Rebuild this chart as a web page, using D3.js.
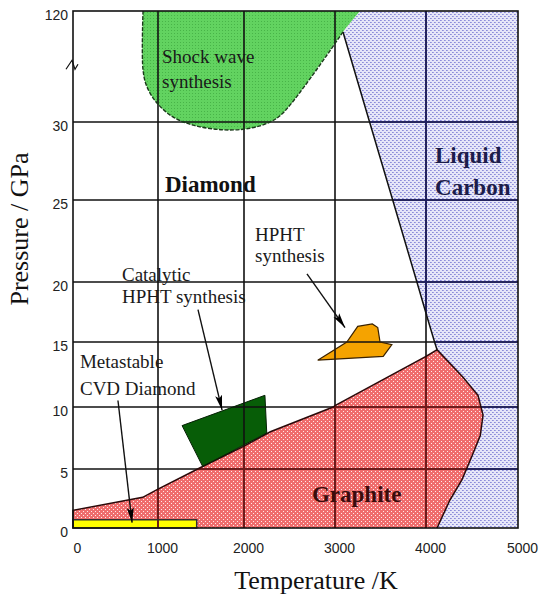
<!DOCTYPE html>
<html><head><meta charset="utf-8">
<script src="https://cdn.jsdelivr.net/npm/d3@7"></script>
<style>body{margin:0;background:#fff}</style>
</head><body>
<svg id="c" width="539" height="597"></svg>
<script>
// ---------- data (T in K, P in GPa) ----------
const tempTicks = [0, 1000, 2000, 3000, 4000, 5000];
const tempLabels = ["0", "1000", "2000", "3000", "4000", "5000"];
const pressTicks = [0, 5, 10, 15, 20, 25, 30, 120];
const pressLabels = ["0", "5", "10", "15", "20", "25", "30", "120"];

const graphiteRegion = [[0,0],[0,1.5],[820,2.6],[1000,3.3],[1490,5.1],[2000,6.85],[2290,8.0],[2980,10],[3000,10.1],[4000,13.9],[4120,14.4],[4400,12.3],[4565,10.9],[4620,9.35],[4590,7.7],[4500,6.05],[4390,4.07],[4260,2.37],[4120,0]];
const liquidRegion = [[3275,120],[5000,120],[5000,0],[4120,0],[4260,2.37],[4390,4.07],[4500,6.05],[4590,7.7],[4620,9.35],[4565,10.9],[4400,12.3],[4120,14.4],[4093,15],[4000,17.4],[3900,20],[3634,25],[3380,30],[3088,103]];
const meltLine = [[4120,14.4],[4093,15],[4000,17.4],[3900,20],[3634,25],[3380,30],[3088,103]];
const shockRegion = [[3275,120],[3088,103],[2429,37.3],[2286,30],[2066,29.6],[1756,29.5],[1407,29.8],[1174,34.1],[988,45.4],[871,58.4],[824,72.2],[824,120]];
const hphtRegion = [[2810,13.6],[3130,15],[3250,16.3],[3410,16.5],[3470,16.2],[3495,15],[3625,14.8],[3530,13.9]];
const catalyticRegion = [[1280,8.5],[2230,10.9],[2250,7.9],[1520,5.2]];
const cvdRegion = [[0,0],[0,0.7],[1450,0.7],[1450,0]];

const arrows = [
  {from:[529,10.5], to:[695,0.45]},
  {from:[1465,17.7], to:[1745,9.75]},
  {from:[2692,20.5], to:[3110,16.2]}
];
const labels = [
  {t:"Shock wave", T:1047, P:77.8, bold:false},
  {t:"synthesis", T:1047, P:57.6, bold:false},
  {t:"Diamond", T:1081, P:25.5, bold:true, color:"#111"},
  {t:"Liquid", T:4098, P:27.4, bold:true, color:"#1c1c4a"},
  {t:"Carbon", T:4098, P:25.3, bold:true, color:"#1c1c4a"},
  {t:"HPHT", T:2121, P:22.5, bold:false},
  {t:"synthesis", T:2121, P:21.2, bold:false},
  {t:"Catalytic", T:576, P:20.06, bold:false},
  {t:"HPHT synthesis", T:576, P:18.25, bold:false},
  {t:"Metastable", T:82, P:13.0, bold:false},
  {t:"CVD Diamond", T:82, P:10.9, bold:false},
  {t:"Graphite", T:2747, P:2.2, bold:true, color:"#3a0c0c"}
];

// ---------- layout ----------
const svg = d3.select("#c");
const x = d3.scaleLinear().domain(tempTicks).range([73,158,244,335,426,518]);
const y = d3.scaleLinear().domain(pressTicks).range([528,469,407,342,282,200,122,11]);
const X0 = x(0), X1 = x(5000), Y0 = y(0), Y1 = y(120);

const defs = svg.append("defs");
function pat(id, base, dots, size){
  const p = defs.append("pattern").attr("id",id).attr("width",size).attr("height",size).attr("patternUnits","userSpaceOnUse");
  p.append("rect").attr("width",size).attr("height",size).attr("fill",base);
  dots.forEach(d=>p.append("rect").attr("x",d[0]).attr("y",d[1]).attr("width",d[3]).attr("height",d[3]).attr("fill",d[2]));
}
pat("pGreen","#62d360",[[0,0,"#48b448",1]],3);
pat("pBlue","#e6e6f8",[[0,0,"#8c8cd8",1],[1,0,"#a2a2e2",1],[2,2,"#8c8cd8",1],[3,2,"#a2a2e2",1]],4);
pat("pRed","#ef6d6d",[[1,1,"#ffeaea",1],[3,3,"#ffeaea",1]],4);

const line = d3.line().x(d=>x(d[0])).y(d=>y(d[1]));
const smooth = d3.line().x(d=>x(d[0])).y(d=>y(d[1])).curve(d3.curveCatmullRom);

defs.append("clipPath").attr("id","clipRed").append("path").attr("d", line(graphiteRegion)+"Z");
defs.append("clipPath").attr("id","clipBlue").append("path").attr("d", line(liquidRegion)+"Z");

// arrow marker
const mk = defs.append("marker").attr("id","arr").attr("markerUnits","userSpaceOnUse")
  .attr("markerWidth",16).attr("markerHeight",10).attr("refX",15).attr("refY",5).attr("orient","auto");
mk.append("path").attr("d","M0,1.5 L15,5 L0,8.5 L3,5 Z").attr("fill","#000");

// regions
svg.append("path").attr("d", line(liquidRegion)+"Z").attr("fill","url(#pBlue)");
svg.append("path").attr("d", line(graphiteRegion)+"Z").attr("fill","url(#pRed)");
svg.append("path").attr("d", smooth(shockRegion)+"Z").attr("fill","url(#pGreen)");
svg.append("path").attr("d", line(hphtRegion)+"Z").attr("fill","#f5a300");
svg.append("path").attr("d", line(catalyticRegion)+"Z").attr("fill","#075d07");
svg.append("path").attr("d", line(cvdRegion)+"Z").attr("fill","#ffff00");

// grid
function grid(g, color){
  g.selectAll("line.v").data(tempTicks.slice(1,-1)).join("line").attr("class","v")
    .attr("x1",d=>x(d)).attr("x2",d=>x(d)).attr("y1",Y0).attr("y2",Y1)
    .attr("stroke",color).attr("stroke-width",1.6);
  g.selectAll("line.h").data(pressTicks.slice(1,-1)).join("line").attr("class","h")
    .attr("x1",X0).attr("x2",X1).attr("y1",d=>y(d)).attr("y2",d=>y(d))
    .attr("stroke",color).attr("stroke-width",1.6);
}
grid(svg.append("g"), "#111");
grid(svg.append("g").attr("clip-path","url(#clipRed)"), "#7a1818");
grid(svg.append("g").attr("clip-path","url(#clipBlue)"), "#1e1e66");

// outlines
svg.append("path").attr("d", line(graphiteRegion)).attr("fill","none").attr("stroke","#2a0a0a").attr("stroke-width",1.5);
svg.append("path").attr("d", line(meltLine)).attr("fill","none").attr("stroke","#111").attr("stroke-width",1.5);
svg.append("path").attr("d", smooth(shockRegion.slice(1))).attr("fill","none").attr("stroke","#1a3a1a").attr("stroke-width",1.4).attr("stroke-dasharray","4,1.5");
svg.append("path").attr("d", line(hphtRegion)+"Z").attr("fill","none").attr("stroke","#3a2200").attr("stroke-width",1.2);
svg.append("path").attr("d", line(catalyticRegion)+"Z").attr("fill","none").attr("stroke","#062006").attr("stroke-width",1);
svg.append("path").attr("d", line(cvdRegion)+"Z").attr("fill","none").attr("stroke","#333").attr("stroke-width",1.5);

// frame
svg.append("rect").attr("x",X0).attr("y",Y1).attr("width",X1-X0).attr("height",Y0-Y1)
  .attr("fill","none").attr("stroke","#111").attr("stroke-width",1.6);

// axis break mark
const yb = y(76);
svg.append("path").attr("d",`M${X0-7},${yb+4} L${X0-1},${yb-5} L${X0+2},${yb+4} L${X0+5},${yb-1}`)
  .attr("fill","none").attr("stroke","#111").attr("stroke-width",1.2);

// axes
const yAxis = svg.append("g").attr("transform",`translate(${X0},0)`)
  .call(d3.axisLeft(y).tickValues(pressTicks).tickFormat((d,i)=>pressLabels[i]).tickSize(0).tickPadding(5));
yAxis.select(".domain").remove();
yAxis.selectAll("text").attr("dy","0.62em").attr("font-family","'Liberation Sans',Arial,sans-serif").attr("font-size",14).attr("fill","#222");

const xAxis = svg.append("g").attr("transform",`translate(0,${Y0})`)
  .call(d3.axisBottom(x).tickValues(tempTicks).tickFormat((d,i)=>tempLabels[i]).tickSize(0).tickPadding(15));
xAxis.select(".domain").remove();
xAxis.selectAll("text").attr("dx",4).attr("font-family","'Liberation Sans',Arial,sans-serif").attr("font-size",14).attr("fill","#222");

// axis titles
svg.append("text").attr("x",316).attr("y",589).attr("text-anchor","middle")
  .attr("font-family","'Liberation Serif','Times New Roman',serif").attr("font-size",26).attr("fill","#111")
  .text("Temperature /K");
svg.append("text").attr("transform",`translate(28,${229}) rotate(-90)`).attr("text-anchor","middle")
  .attr("font-family","'Liberation Serif','Times New Roman',serif").attr("font-size",26).attr("fill","#111")
  .text("Pressure / GPa");

// arrows
svg.selectAll("line.arr").data(arrows).join("line").attr("class","arr")
  .attr("x1",d=>x(d.from[0])).attr("y1",d=>y(d.from[1]))
  .attr("x2",d=>x(d.to[0])).attr("y2",d=>y(d.to[1]))
  .attr("stroke","#111").attr("stroke-width",1.4).attr("marker-end","url(#arr)");

// labels
svg.selectAll("text.lab").data(labels).join("text").attr("class","lab")
  .attr("x",d=>x(d.T)).attr("y",d=>y(d.P))
  .attr("font-family","'Liberation Serif','Times New Roman',serif")
  .attr("font-size",d=>d.bold?23:19).attr("font-weight",d=>d.bold?"bold":"normal")
  .attr("fill",d=>d.color||"#1a1a1a")
  .text(d=>d.t);
</script>
</body></html>
